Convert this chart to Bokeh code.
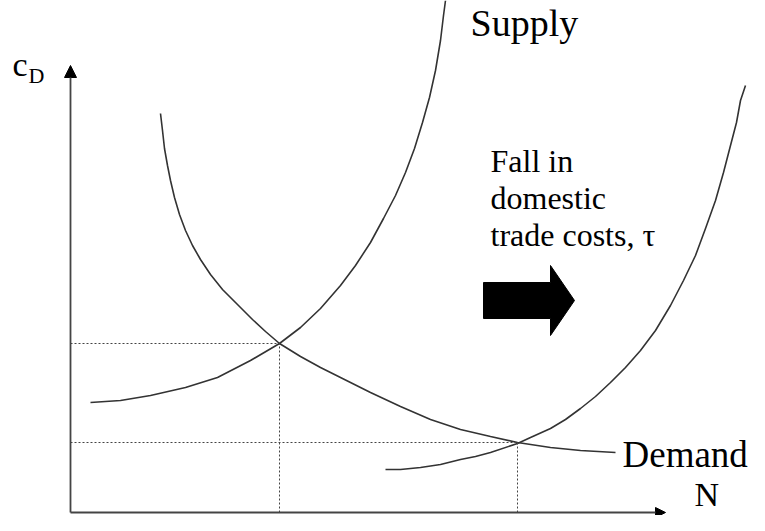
from bokeh.plotting import figure
from bokeh.models import Range1d, Label, Arrow, NormalHead
from bokeh.embed import file_html
from bokeh.resources import INLINE

# Curves (N along x, c_D along y; origin at the axes corner)
supply1_N = [20, 50, 80, 115, 147, 180, 209, 230, 250, 270, 285, 300, 313, 325, 335, 344, 352, 359, 365, 370, 373, 375]
supply1_c = [110, 112, 117, 125, 135, 152, 169, 185, 204, 227, 247, 270, 294, 317, 340, 364, 390, 415, 442, 472, 497, 512]

demand_N = [90, 92, 94, 97, 100, 104, 109, 115, 122, 130, 140, 152, 166, 182, 195, 209, 230, 250, 270, 300, 330, 360, 390, 420, 447, 480, 510, 545]
demand_c = [399, 382, 364, 347, 332, 315, 298, 282, 267, 253, 238, 223, 209, 193, 181, 169, 156, 145, 135, 120, 106, 93, 83, 76, 70, 65, 62, 60]

supply2_N = [315, 330, 350, 370, 390, 405, 420, 447, 460, 480, 495, 510, 525, 540, 555, 570, 585, 600, 613, 625, 635, 645, 653, 660, 666, 670, 675]
supply2_c = [43, 43, 45, 48, 53, 56, 60, 69, 75, 84, 93, 104, 116, 130, 145, 162, 182, 207, 232, 257, 284, 312, 340, 367, 390, 412, 427]

# Equilibria (before and after the fall in trade costs)
eq_N = [209, 447]
eq_c = [169, 70]

axis_top = 447
axis_right = 595

p = figure(width=749, height=515, output_backend="svg", toolbar_location=None,
           x_range=Range1d(-70, 679), y_range=Range1d(-3, 512),
           x_axis_location=None, y_axis_location=None, min_border=0)
p.grid.visible = False
p.outline_line_color = None
p.background_fill_color = "white"
p.border_fill_color = "white"

curve_color = "#333333"
p.line(supply1_N, supply1_c, line_color=curve_color, line_width=1.6)
p.line(demand_N, demand_c, line_color=curve_color, line_width=1.6)
p.line(supply2_N, supply2_c, line_color=curve_color, line_width=1.6)

# dotted guides
p.segment(x0=[0] * len(eq_N), y0=eq_c, x1=eq_N, y1=eq_c,
          line_color="#444444", line_width=1, line_dash="2 2")
p.segment(x0=eq_N, y0=[0] * len(eq_N), x1=eq_N, y1=eq_c,
          line_color="#444444", line_width=1, line_dash="2 2")

# axes with arrow heads
p.add_layout(Arrow(end=NormalHead(size=12, fill_color="black", line_color="black"),
                   x_start=0, y_start=0, x_end=0, y_end=axis_top,
                   line_color="#444444", line_width=1.8))
p.add_layout(Arrow(end=NormalHead(size=10, fill_color="black", line_color="black"),
                   x_start=0, y_start=0, x_end=axis_right, y_end=0,
                   line_color="#444444", line_width=1.8))

# block arrow
ax0, ay0 = 413, 212
p.patch([ax0, ax0 + 67, ax0 + 67, ax0 + 91, ax0 + 67, ax0 + 67, ax0],
        [ay0 + 18, ay0 + 18, ay0 + 35, ay0, ay0 - 35, ay0 - 18, ay0 - 18],
        fill_color="black", line_color="black")

font = "Liberation Serif"

def lab(x, y, t, size):
    p.add_layout(Label(x=x, y=y, text=t, text_font=font, text_font_size=size,
                       text_color="black", text_baseline="alphabetic"))

lab(400, 490, "Supply", "38px")
lab(552, 58, "Demand", "37px")
lab(624, 18, "N", "34px")
lab(-58, 448, "c", "34px")
lab(-42, 437, "D", "22px")
lab(420, 352, "Fall in", "32px")
lab(420, 315, "domestic", "32px")
lab(420, 278, "trade costs, τ", "32px")

open("out.html", "w").write(file_html(p, INLINE))
